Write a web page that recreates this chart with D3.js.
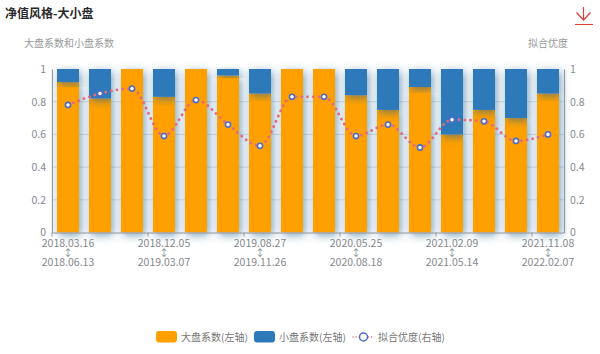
<!DOCTYPE html>
<html>
<head>
<meta charset="utf-8">
<script src="https://cdn.jsdelivr.net/npm/d3@7"></script>
<style>
  html, body { margin: 0; padding: 0; background: #fff; }
  svg { display: block; }
  text { font-family: "Noto Sans CJK SC", "Noto Sans", sans-serif; }
</style>
</head>
<body>
<svg id="chart" width="600" height="354"></svg>
<script>
const periodStart = ["2018.03.16", "", "", "2018.12.05", "", "", "2019.08.27", "", "", "2020.05.25", "", "", "2021.02.09", "", "", "2021.11.08"];
const periodEnd = ["2018.06.13", "", "", "2019.03.07", "", "", "2019.11.26", "", "", "2020.08.18", "", "", "2021.05.14", "", "", "2022.02.07"];
const largeCap = [0.92, 0.82, 1, 0.83, 1, 0.96, 0.85, 1, 1, 0.84, 0.75, 0.89, 0.60, 0.75, 0.70, 0.85];
const smallCap = [0.08, 0.18, 0, 0.17, 0, 0.04, 0.15, 0, 0, 0.16, 0.25, 0.11, 0.40, 0.25, 0.30, 0.15];
const fitDegree = [0.78, 0.85, 0.88, 0.59, 0.81, 0.66, 0.53, 0.83, 0.83, 0.59, 0.66, 0.52, 0.69, 0.68, 0.56, 0.60];
const yTicks = [0, 0.2, 0.4, 0.6, 0.8, 1];
const legendNames = ["大盘系数(左轴)", "小盘系数(左轴)", "拟合优度(右轴)"];

const orange = "#ffa000", blue = "#2e79b9", axisGrey = "#8f98a3", textGrey = "#85898f";
const margin = { left: 52, right: 36, top: 69, bottom: 121.5 };
const svg = d3.select("#chart");
const index = d3.range(largeCap.length);

const x = d3.scaleBand().domain(index).range([margin.left, 600 - margin.right]).paddingInner(0.3125).paddingOuter(0.15625);
const y = d3.scaleLinear().domain([0, 1]).range([354 - margin.bottom, margin.top]);

const defs = svg.append("defs");
const shadow = defs.append("filter").attr("id", "barShadow")
  .attr("x", "-60%").attr("y", "-30%").attr("width", "220%").attr("height", "160%");
shadow.append("feDropShadow")
  .attr("dx", 2).attr("dy", 2.5).attr("stdDeviation", 4.5)
  .attr("flood-color", "#27648f").attr("flood-opacity", 0.62);

// title
svg.append("text").attr("x", 5).attr("y", 18)
  .attr("font-size", 12).attr("font-weight", 700).attr("fill", "#2b2b2b").text("净值风格-大小盘");
svg.append("text").attr("x", 24).attr("y", 47)
  .attr("font-size", 10).attr("fill", "#9a9a9a").text("大盘系数和小盘系数");
svg.append("text").attr("x", 568).attr("y", 47).attr("text-anchor", "end")
  .attr("font-size", 10).attr("fill", "#9a9a9a").text("拟合优度");

// download icon
svg.append("path")
  .attr("d", "M583.5 7V20M576.5 12.5L583.5 20L590.5 12.5M575 24.5H593")
  .attr("fill", "none").attr("stroke", "#e0403a").attr("stroke-width", 1.2);

// grid
svg.append("g").selectAll("line").data(yTicks.filter(d => d > 0 && d < 1)).enter().append("line")
  .attr("x1", margin.left).attr("x2", 600 - margin.right)
  .attr("y1", d => y(d)).attr("y2", d => y(d))
  .attr("stroke", "#d5e1ec").attr("stroke-width", 1);

// bars: the large cap first, the small cap stacked on top and casting onto it
svg.append("g").selectAll("rect").data(index).enter().append("rect")
  .attr("x", i => x(i)).attr("width", x.bandwidth())
  .attr("y", i => y(largeCap[i])).attr("height", i => y(0) - y(largeCap[i]))
  .attr("fill", orange).attr("filter", "url(#barShadow)");
svg.append("g").selectAll("rect").data(index.filter(i => smallCap[i] > 0)).enter().append("rect")
  .attr("x", i => x(i)).attr("width", x.bandwidth())
  .attr("y", i => y(largeCap[i] + smallCap[i])).attr("height", i => y(largeCap[i]) - y(largeCap[i] + smallCap[i]))
  .attr("fill", blue).attr("filter", "url(#barShadow)");

// axes
const styleAxis = g => {
  g.selectAll("path.domain").attr("stroke", axisGrey).attr("stroke-width", 1.2);
  g.selectAll("text").attr("fill", textGrey).attr("font-size", 10.5);
};
const fmt = d => String(d);
svg.append("g").attr("transform", `translate(${margin.left},0)`)
  .call(d3.axisLeft(y).tickValues(yTicks).tickFormat(fmt).tickSize(0).tickPadding(6)).call(styleAxis);
svg.append("g").attr("transform", `translate(${600 - margin.right},0)`)
  .call(d3.axisRight(y).tickValues(yTicks).tickFormat(fmt).tickSize(0).tickPadding(6)).call(styleAxis);

const xAxis = svg.append("g").attr("transform", `translate(0,${y(0)})`)
  .call(d3.axisBottom(x).tickValues(index.filter(i => periodStart[i])).tickFormat(i => periodStart[i]).tickSize(0).tickPadding(7));
xAxis.call(styleAxis);
xAxis.selectAll(".tick text").each(function (i) {
  const t = d3.select(this);
  t.append("tspan").attr("x", 0).attr("dy", "10").attr("font-size", 10).text("↕");
  t.append("tspan").attr("x", 0).attr("dy", "9.5").text(periodEnd[i]);
});
// ticks sit on band edges, not under the labels
svg.append("g").selectAll("line").data(index.filter(i => i % 3 === 0)).enter().append("line")
  .attr("x1", i => x(i) - x.step() * 0.15625).attr("x2", i => x(i) - x.step() * 0.15625)
  .attr("y1", y(0)).attr("y2", y(0) + 4)
  .attr("stroke", axisGrey);

// fit line
const line = d3.line().x(i => x(i) + x.bandwidth() / 2).y(i => y(fitDegree[i])).curve(d3.curveMonotoneX);
svg.append("path").datum(index).attr("d", line)
  .attr("fill", "none").attr("stroke", "#e8697d").attr("stroke-width", 2.8)
  .attr("stroke-linecap", "round").attr("stroke-dasharray", "0.1 5.6");
svg.append("g").selectAll("circle").data(index).enter().append("circle")
  .attr("cx", i => x(i) + x.bandwidth() / 2).attr("cy", i => y(fitDegree[i])).attr("r", 2.6)
  .attr("fill", "#fff").attr("stroke", "#4f6cc4").attr("stroke-width", 1.6);

// legend
const legendY = 337;
const legendX = [156, 254, 353];
[orange, blue].forEach((c, k) => {
  svg.append("rect").attr("x", legendX[k]).attr("y", legendY - 6).attr("width", 21).attr("height", 11.5)
    .attr("rx", 3).attr("fill", c);
});
svg.append("line").attr("x1", legendX[2]).attr("x2", legendX[2] + 21).attr("y1", legendY).attr("y2", legendY)
  .attr("stroke", "#e8697d").attr("stroke-width", 1.4).attr("stroke-linecap", "round").attr("stroke-dasharray", "0.1 3");
svg.append("circle").attr("cx", legendX[2] + 10.5).attr("cy", legendY).attr("r", 4)
  .attr("fill", "#fff").attr("stroke", "#4f6cc4").attr("stroke-width", 1.5);
legendNames.forEach((name, k) => {
  svg.append("text").attr("x", legendX[k] + 25).attr("y", legendY + 3.5)
    .attr("font-size", 10).attr("fill", "#777").text(name);
});
</script>
</body>
</html>
